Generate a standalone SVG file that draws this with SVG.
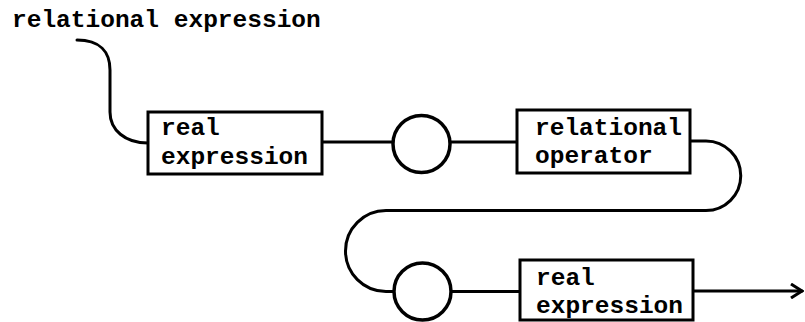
<svg xmlns="http://www.w3.org/2000/svg" width="805" height="322" viewBox="0 0 805 322">
<style>
.box{fill:#fff;stroke:#000;stroke-width:3}
.circ{fill:#fff;stroke:#000;stroke-width:3.5}
.wire{fill:none;stroke:#000;stroke-width:3;stroke-linecap:round;stroke-linejoin:round}
text{font-family:"Liberation Mono","Courier New",monospace;font-weight:bold;font-size:24.5px;fill:#000}
</style>
<defs>
<marker id="arr" markerUnits="userSpaceOnUse" markerWidth="14" markerHeight="16" refX="12" refY="8" orient="auto">
<path d="M1,1 L12,8 L1,15" fill="none" stroke="#000" stroke-width="3" stroke-linejoin="miter"/>
</marker>
</defs>
<text id="title" x="12" y="27">relational expression</text>
<g id="connectors">
<path class="wire" d="M77,40 C100,40 110,52 110,70 V112 C110,130 125,143 148,143"/>
<path class="wire" d="M322,142 H393"/>
<path class="wire" d="M450,142 H517"/>
<path class="wire" d="M690,141 H706 A34.5,34.5 0 0 1 706,210.5 H386 A40.5,40.5 0 0 0 386,291.5 H394"/>
<path class="wire" d="M451,291.5 H520"/>
<path class="wire" d="M693,291 H802" marker-end="url(#arr)"/>
</g>
<g id="node-real-expression-1">
<rect class="box" x="148" y="112" width="174" height="62"/>
<text x="161" y="135">real</text>
<text x="161" y="164">expression</text>
</g>
<g id="node-circle-1">
<circle class="circ" cx="421.5" cy="144" r="28.5"/>
</g>
<g id="node-relational-operator">
<rect class="box" x="517" y="110" width="173" height="63"/>
<text x="535" y="135">relational</text>
<text x="535" y="163">operator</text>
</g>
<g id="node-circle-2">
<circle class="circ" cx="422.5" cy="291.5" r="28.5"/>
</g>
<g id="node-real-expression-2">
<rect class="box" x="520" y="260" width="173" height="60"/>
<text x="536" y="285">real</text>
<text x="536" y="313">expression</text>
</g>
</svg>
